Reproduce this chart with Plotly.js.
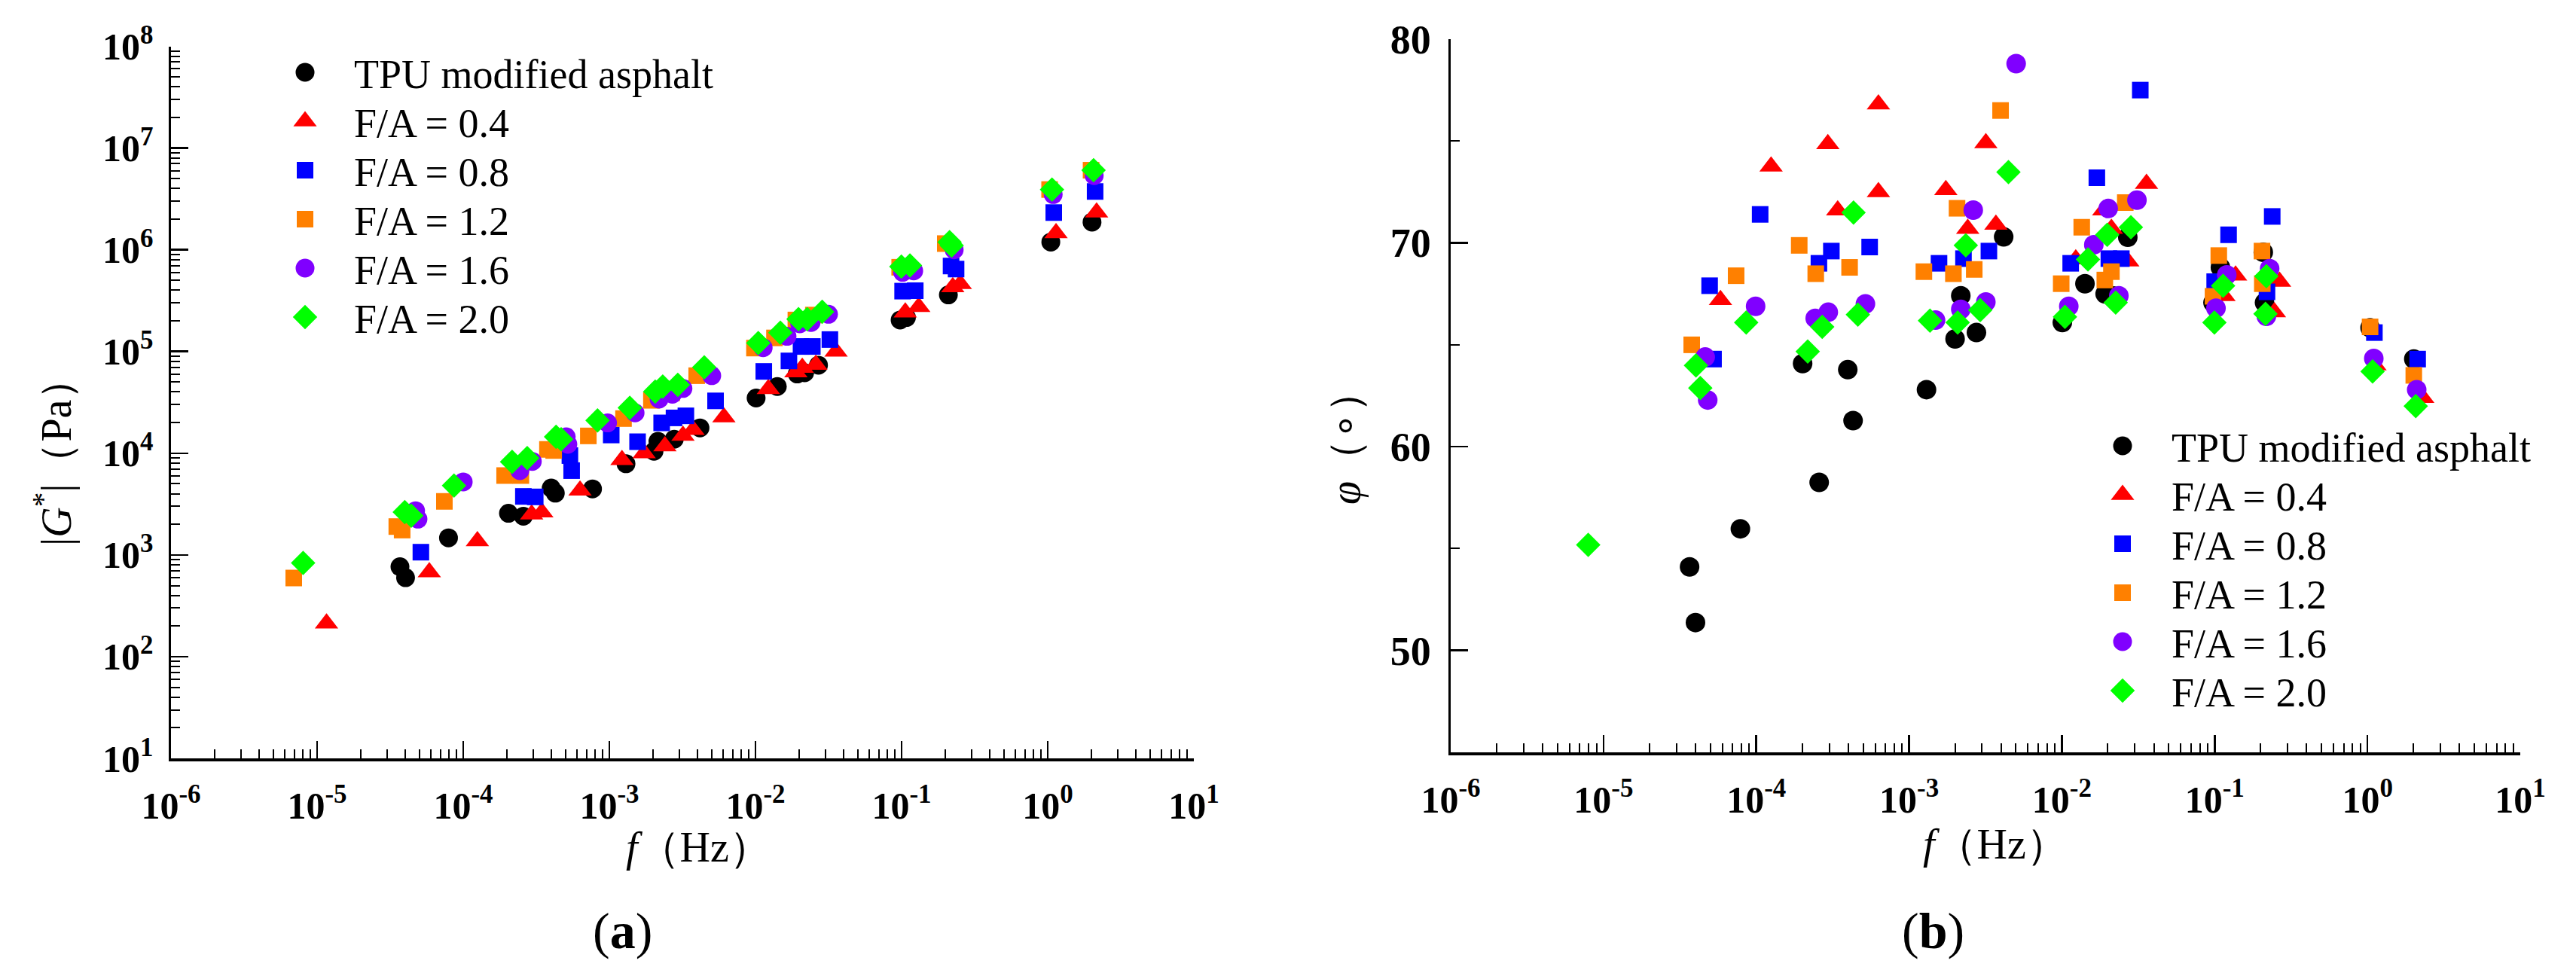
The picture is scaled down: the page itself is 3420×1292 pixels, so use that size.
<!DOCTYPE html>
<html>
<head>
<meta charset="utf-8">
<script src="https://cdn.plot.ly/plotly-3.0.1.min.js"></script>
<style>html,body{margin:0;padding:0;background:#fff;}#chart{width:3420px;height:1292px;}</style>
</head>
<body>
<div id="chart"></div>
<script>
// ---------- series names ----------
const seriesNames = ["TPU modified asphalt", "F/A = 0.4", "F/A = 0.8", "F/A = 1.2", "F/A = 1.6", "F/A = 2.0"];

// ---------- panel (a): |G*| (Pa) vs f (Hz) ----------
const tpuA_f = [3.69e-5, 4.03e-5, 7.93e-5, 2.04e-4, 2.58e-4, 4.0e-4, 4.27e-4, 7.67e-4, 1.30e-3, 2.02e-3, 2.15e-3, 2.78e-3, 4.17e-3, 0.0101, 0.0141, 0.0193, 0.0217, 0.0270, 0.0977, 0.108, 0.209, 1.05, 2.01];
const tpuA_G = [765, 597, 1472, 2565, 2400, 4540, 4050, 4460, 7870, 10440, 13090, 13740, 17740, 34860, 45290, 60100, 61800, 73300, 2.04e5, 2.16e5, 3.6e5, 1.19e6, 1.87e6];

const fa04A_f = [1.16e-5, 5.86e-5, 1.25e-4, 2.94e-4, 3.45e-4, 6.30e-4, 1.22e-3, 1.73e-3, 2.40e-3, 3.19e-3, 3.74e-3, 6.08e-3, 0.01225, 0.0189, 0.0209, 0.0259, 0.0356, 0.106, 0.131, 0.224, 0.252, 1.14, 2.16];
const fa04A_G = [212, 676, 1369, 2500, 2630, 4300, 8600, 10000, 11700, 14850, 17000, 22600, 42800, 62500, 69400, 74100, 99800, 2.43e5, 2.74e5, 4.30e5, 4.62e5, 1.46e6, 2.33e6];

const fa08A_f = [5.13e-5, 2.58e-4, 3.11e-4, 5.37e-4, 5.52e-4, 1.03e-3, 1.56e-3, 2.28e-3, 2.77e-3, 3.34e-3, 5.33e-3, 0.0114, 0.01694, 0.0205, 0.0245, 0.0323, 0.1016, 0.124, 0.218, 0.236, 1.10, 2.11];
const fa08A_G = [1064, 3760, 3720, 9480, 6740, 15100, 12970, 19860, 22240, 23300, 32700, 63700, 80800, 1.12e5, 1.12e5, 1.31e5, 3.92e5, 3.96e5, 6.92e5, 6.46e5, 2.32e6, 3.74e6];

const fa12A_f = [6.92e-6, 3.51e-5, 3.82e-5, 7.43e-5, 1.92e-4, 2.48e-4, 3.77e-4, 4.16e-4, 7.18e-4, 1.25e-3, 1.94e-3, 2.67e-3, 3.96e-3, 9.84e-3, 0.01349, 0.0189, 0.0249, 0.097, 0.199, 1.03, 1.98];
const fa12A_G = [593, 1900, 1755, 3360, 6030, 6030, 10900, 10630, 14790, 21900, 33100, 39300, 57800, 1.08e5, 1.36e5, 2.04e5, 2.28e5, 6.73e5, 1.15e6, 3.91e6, 6.05e6];

const fa16A_f = [4.72e-5, 4.9e-5, 1.0e-4, 2.44e-4, 2.97e-4, 5.07e-4, 5.2e-4, 9.72e-4, 1.50e-3, 2.19e-3, 2.7e-3, 3.19e-3, 5.02e-3, 0.01129, 0.01644, 0.0201, 0.0240, 0.0316, 0.1016, 0.121, 0.229, 1.09, 2.08];
const fa16A_G = [2720, 2250, 5220, 6740, 8310, 14500, 12250, 19860, 24900, 34000, 38000, 43300, 57800, 1.09e5, 1.41e5, 1.87e5, 1.93e5, 2.32e5, 6.0e5, 6.2e5, 1.0e6, 3.49e6, 5.35e6];

const fa20A_f = [8.02e-6, 3.98e-5, 4.41e-5, 8.65e-5, 2.16e-4, 2.74e-4, 4.32e-4, 4.68e-4, 8.3e-4, 1.38e-3, 2.06e-3, 2.32e-3, 2.94e-3, 4.46e-3, 0.01045, 0.01479, 0.0197, 0.0226, 0.0286, 0.0996, 0.114, 0.213, 0.22, 1.07, 2.06];
const fa20A_G = [834, 2640, 2430, 4800, 8240, 8970, 14500, 13730, 21000, 27900, 40400, 45300, 47100, 70000, 1.21e5, 1.53e5, 2.08e5, 2.08e5, 2.46e5, 6.84e5, 7.0e5, 1.19e6, 1.10e6, 3.91e6, 6.05e6];

// ---------- panel (b): phase angle (deg) vs f (Hz) ----------
const tpuB_f = [3.66e-5, 4.0e-5, 7.87e-5, 2.01e-4, 2.58e-4, 3.97e-4, 4.3e-4, 1.30e-3, 2.0e-3, 2.18e-3, 2.76e-3, 4.16e-3, 0.01007, 0.01416, 0.0192, 0.0217, 0.027, 0.0975, 0.109, 0.208, 0.212, 1.04, 2.01];
const tpuB_phi = [54.1, 51.37, 55.97, 64.08, 58.25, 63.78, 61.28, 62.8, 65.29, 67.41, 65.6, 70.3, 66.09, 68.0, 67.5, 67.4, 70.28, 67.07, 68.8, 69.54, 67.07, 65.84, 64.3];

const fa04B_f = [5.83e-5, 1.25e-4, 2.94e-4, 3.41e-4, 6.3e-4, 6.3e-4, 1.74e-3, 2.42e-3, 3.18e-3, 3.70e-3, 0.01233, 0.0188, 0.0211, 0.027, 0.0358, 0.115, 0.137, 0.246, 0.266, 1.12, 2.30];
const fa04B_phi = [67.2, 73.75, 74.85, 71.6, 76.8, 72.5, 72.6, 70.7, 74.9, 70.9, 69.2, 71.6, 70.7, 69.1, 72.9, 67.4, 68.4, 66.6, 68.1, 64.0, 62.4];

const fa08B_f = [4.95e-5, 5.25e-5, 1.06e-4, 2.57e-4, 3.1e-4, 5.52e-4, 1.57e-3, 2.27e-3, 3.33e-3, 0.01142, 0.01694, 0.0203, 0.0245, 0.0326, 0.1, 0.1233, 0.22, 0.238, 1.11, 2.13];
const fa08B_phi = [67.9, 64.3, 71.4, 69.0, 69.6, 69.8, 69.0, 69.23, 69.6, 69.0, 73.2, 69.23, 69.23, 77.5, 68.1, 70.4, 67.6, 71.3, 65.6, 64.3];

const fa12B_f = [3.78e-5, 7.38e-5, 1.91e-4, 2.45e-4, 4.08e-4, 1.25e-3, 1.95e-3, 2.06e-3, 2.67e-3, 3.97e-3, 9.9e-3, 0.01349, 0.0191, 0.0211, 0.026, 0.0975, 0.1064, 0.204, 0.205, 1.04, 2.01];
const fa12B_phi = [65.0, 68.39, 69.88, 68.49, 68.8, 68.59, 68.49, 71.7, 68.7, 76.5, 68.0, 70.77, 68.18, 68.59, 71.98, 67.38, 69.38, 69.6, 68.0, 65.88, 63.5];

const fa16B_f = [4.63e-5, 4.81e-5, 9.9e-5, 2.43e-4, 2.96e-4, 5.18e-4, 1.49e-3, 2.18e-3, 2.63e-3, 3.18e-3, 5.02e-3, 0.0111, 0.01618, 0.0201, 0.0236, 0.031, 0.102, 0.120, 0.218, 0.229, 1.10, 2.10];
const fa16B_phi = [64.4, 62.29, 66.89, 66.3, 66.6, 67.01, 66.21, 66.74, 71.61, 67.1, 78.8, 66.89, 69.91, 71.69, 67.41, 72.1, 66.8, 68.43, 66.4, 68.74, 64.33, 62.8];

const fa20B_f = [7.94e-6, 4.03e-5, 4.30e-5, 8.59e-5, 2.17e-4, 2.70e-4, 4.33e-4, 4.62e-4, 1.37e-3, 2.08e-3, 2.35e-3, 2.92e-3, 4.47e-3, 0.01047, 0.01482, 0.0198, 0.0225, 0.0283, 0.0996, 0.1135, 0.215, 0.218, 1.08, 2.07];
const fa20B_phi = [55.18, 63.99, 62.88, 66.09, 64.67, 65.88, 71.49, 66.48, 66.19, 66.09, 69.88, 66.7, 73.48, 66.37, 69.19, 70.4, 67.07, 70.77, 66.09, 67.9, 66.52, 68.37, 63.69, 61.99];

// ---------- axis tick labels ----------
const xExponents = [-6, -5, -4, -3, -2, -1, 0, 1];
const yExponentsA = [1, 2, 3, 4, 5, 6, 7, 8];
const yTicksB = [50, 60, 70, 80];

// ---------- styling ----------
const colors = ["#000000", "#FF0000", "#0000FF", "#FF8000", "#8000FF", "#00FF00"];
const symbols = ["circle", "triangle-up", "square", "square", "circle", "diamond"];
const sizesA = [25, 27, 22, 22, 25, 25];
const sizesB = [26, 27, 22, 22, 26, 25];
const widthFactor = {"circle": 1, "triangle-up": 1.1547, "square": 1, "diamond": 1.3};

const serif = '"Liberation Serif", "Times New Roman", Times, serif';

const dataA = [[tpuA_f, tpuA_G], [fa04A_f, fa04A_G], [fa08A_f, fa08A_G], [fa12A_f, fa12A_G], [fa16A_f, fa16A_G], [fa20A_f, fa20A_G]];
const dataB = [[tpuB_f, tpuB_phi], [fa04B_f, fa04B_phi], [fa08B_f, fa08B_phi], [fa12B_f, fa12B_phi], [fa16B_f, fa16B_phi], [fa20B_f, fa20B_phi]];

const traces = [];
dataA.forEach((d, i) => {
  traces.push({
    type: "scatter", mode: "markers", x: d[0], y: d[1], name: seriesNames[i],
    xaxis: "x", yaxis: "y", legend: "legend",
    marker: {symbol: symbols[i], color: colors[i], size: sizesA[i], line: {width: 0}},
    cliponaxis: false
  });
});
dataB.forEach((d, i) => {
  traces.push({
    type: "scatter", mode: "markers", x: d[0], y: d[1], name: seriesNames[i],
    xaxis: "x2", yaxis: "y2", legend: "legend2",
    marker: {symbol: symbols[i], color: colors[i], size: sizesB[i], line: {width: 0}},
    cliponaxis: false
  });
});

const powText = e => "10<sup>" + e + "</sup>";
const xTickVals = xExponents.map(e => Math.pow(10, e));
const xTickText = xExponents.map(powText);
const yTickValsA = yExponentsA.map(e => Math.pow(10, e));
const yTickTextA = yExponentsA.map(powText);
function minorLog(lo, hi) {
  const v = [];
  for (let e = lo; e < hi; e++) for (let k = 2; k <= 9; k++) v.push(k * Math.pow(10, e));
  return v;
}

const tickFont = {family: serif, size: 50, color: "#000", weight: 700};
const baseAxis = {
  showline: true, linewidth: 3.5, linecolor: "#000", mirror: false,
  ticks: "inside", ticklen: 23, tickwidth: 2.5, tickcolor: "#000",
  showgrid: false, zeroline: false, tickfont: tickFont
};

const W = 3420, H = 1292;
const px = v => v / W, py = v => (H - v) / H;

const legendFont = {family: serif, size: 54, color: "#000"};
const titleFont = {family: serif, size: 56, color: "#000"};

const layout = {
  width: W, height: H,
  margin: {l: 0, r: 0, t: 0, b: 0, pad: 0},
  paper_bgcolor: "#fff", plot_bgcolor: "#fff",
  font: {family: serif, color: "#000"},
  showlegend: true,
  xaxis: Object.assign({}, baseAxis, {
    type: "log", range: [-6, 1], domain: [px(227), px(1585)], anchor: "y",
    tickmode: "array", tickvals: xTickVals, ticktext: xTickText, ticklabelstandoff: 16,
    minor: {tickmode: "array", tickvals: minorLog(-6, 1), ticks: "inside", ticklen: 12, tickwidth: 2, tickcolor: "#000", showgrid: false}
  }),
  yaxis: Object.assign({}, baseAxis, {
    type: "log", range: [1, 8], domain: [py(1007), py(61.5)], anchor: "x",
    tickmode: "array", tickvals: yTickValsA, ticktext: yTickTextA, ticklabelstandoff: 10,
    minor: {tickmode: "array", tickvals: minorLog(1, 8), ticks: "inside", ticklen: 12, tickwidth: 2, tickcolor: "#000", showgrid: false}
  }),
  xaxis2: Object.assign({}, baseAxis, {
    type: "log", range: [-6, 1], domain: [px(1926), px(3346)], anchor: "y2",
    tickmode: "array", tickvals: xTickVals, ticktext: xTickText, ticklabelstandoff: 16,
    minor: {tickmode: "array", tickvals: minorLog(-6, 1), ticks: "inside", ticklen: 12, tickwidth: 2, tickcolor: "#000", showgrid: false}
  }),
  yaxis2: Object.assign({}, baseAxis, {
    range: [45, 80], domain: [py(999), py(52)], anchor: "x2",
    tickmode: "array", tickvals: yTicksB, ticklabelstandoff: 12,
    tickfont: {family: serif, size: 54, color: "#000", weight: 700},
    minor: {dtick: 5, ticks: "inside", ticklen: 12, tickwidth: 2, tickcolor: "#000", showgrid: false}
  }),
  legend: {
    x: px(340), y: py(40), xanchor: "left", yanchor: "top",
    bgcolor: "rgba(0,0,0,0)", borderwidth: 0, itemwidth: 120, tracegroupgap: 0,
    font: legendFont
  },
  legend2: {
    x: px(2753), y: py(530), xanchor: "left", yanchor: "top",
    bgcolor: "rgba(0,0,0,0)", borderwidth: 0, itemwidth: 120, tracegroupgap: 0,
    font: legendFont
  },
  annotations: [
    {text: "<i>f</i>（Hz）", x: px(927), y: py(1125), xref: "paper", yref: "paper", xanchor: "center", yanchor: "middle", showarrow: false, font: titleFont},
    {text: "|<i>G</i><sup>*</sup>|（Pa）", x: px(70), y: py(600), xref: "paper", yref: "paper", xanchor: "center", yanchor: "middle", textangle: -90, showarrow: false, font: titleFont},
    {text: "<i>f</i>（Hz）", x: px(2649), y: py(1121), xref: "paper", yref: "paper", xanchor: "center", yanchor: "middle", showarrow: false, font: titleFont},
    {text: "<i>φ</i>（∘）", x: px(1786), y: py(581), xref: "paper", yref: "paper", xanchor: "center", yanchor: "middle", textangle: -90, showarrow: false, font: titleFont},
    {text: "(<b>a</b>)", x: px(826), y: py(1236), xref: "paper", yref: "paper", xanchor: "center", yanchor: "middle", showarrow: false, font: {family: serif, size: 68, color: "#000"}},
    {text: "(<b>b</b>)", x: px(2566), y: py(1236), xref: "paper", yref: "paper", xanchor: "center", yanchor: "middle", showarrow: false, font: {family: serif, size: 68, color: "#000"}}
  ]
};

// legend entries: first symbol centre (px from top) and row spacing as in the reference
const legendRows = [{id: "legend", y0: 96}, {id: "legend2", y0: 592}];
const legendStep = 65;
const trRe = /translate\(\s*([-\d.eE]+)[\s,]+([-\d.eE]+)\s*\)/;

function setAttr(el, name, val) {
  if (el.getAttribute(name) !== val) el.setAttribute(name, val);
}

function tuneOne(lg, L) {
  const items = Array.from(lg.querySelectorAll("g.traces"));
  if (!items.length) return;
  // enlarge each legend symbol to the size of the plotted markers (items follow trace order)
  items.forEach((g, k) => {
    if (k >= symbols.length) return;
    g.querySelectorAll("path.scatterpts").forEach(p => {
      if (!p.dataset.w0) {
        const r = p.getBoundingClientRect();
        if (!r.width) return;
        p.dataset.w0 = String(r.width);
        p.dataset.tr0 = p.getAttribute("transform") || "";
      }
      const s = sizesA[k] * widthFactor[symbols[k]] / parseFloat(p.dataset.w0);
      setAttr(p, "transform", (p.dataset.tr0 + " scale(" + s.toFixed(3) + ")").trim());
    });
  });
  // row spacing
  const p0 = items[0].querySelector("path.scatterpts");
  const m0 = trRe.exec(items[0].getAttribute("transform") || "");
  if (!p0 || !m0) return;
  const r0 = p0.getBoundingClientRect();
  const c0 = r0.top + r0.height / 2;
  const base = parseFloat(m0[2]) + (L.y0 - c0);
  items.forEach((g, k) => {
    const m = trRe.exec(g.getAttribute("transform") || "");
    if (!m) return;
    setAttr(g, "transform", "translate(" + m[1] + "," + (base + k * legendStep).toFixed(2) + ")");
  });
}

function tuneLegends() {
  legendRows.forEach(L => {
    try {
      document.querySelectorAll("#chart g." + L.id).forEach(lg => tuneOne(lg, L));
    } catch (e) { /* keep the default legend if anything goes wrong */ }
  });
}

const gd = document.getElementById("chart");
Plotly.newPlot(gd, traces, layout, {staticPlot: true, displayModeBar: false}).then(() => {
  tuneLegends();
  setTimeout(tuneLegends, 30);
  setTimeout(tuneLegends, 300);
});
</script>
</body>
</html>
